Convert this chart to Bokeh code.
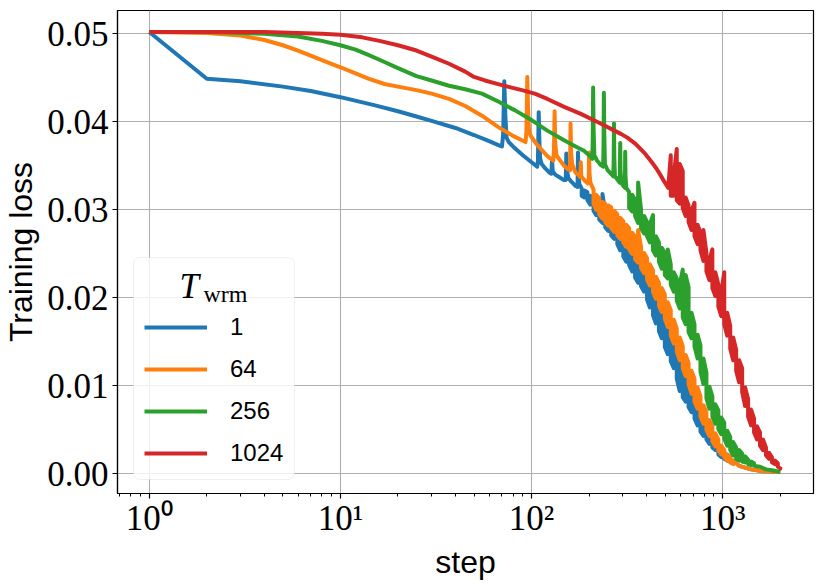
from bokeh.plotting import figure
from bokeh.models import FixedTicker, Legend, LegendItem, Label, BoxAnnotation
from bokeh.embed import file_html
from bokeh.resources import INLINE

# ---------------- data ----------------
series_labels = ["1", "64", "256", "1024"]
series_colors = ["#1f77b4", "#ff7f0e", "#2ca02c", "#d62728"]

# --- T_wrm = 1 : smooth part (step, loss), noisy band (step, upper, lower), tail
t1_line = [
    (1, .0502), (2, .0449), (3, .0446), (5, .0440), (7, .0435), (10, .0428), (15, .0419),
    (20, .0412), (25, .0406), (30, .0401), (40, .0393), (50, .0385), (60, .0378), (68, .0373),
    (70, .0372), (71, .0385), (72, .0446), (73, .0405), (74, .0382), (76, .0377), (80, .0372),
    (90, .0362), (100, .0354), (107, .0349), (108, .0355), (109, .0411), (110, .0375),
    (111, .0358), (113, .0352), (118, .0347), (123, .0343), (127, .0341), (128, .0357),
    (129, .0344), (133, .0340), (140, .0337), (147, .0334), (151, .0334), (152, .0364),
    (153, .0345), (156, .0336), (160, .0333), (165, .0330), (170, .0327), (174, .0326),
    (175, .0365), (176, .0340), (178, .0329),
]
t1_band_steps = [183, 189, 196, 203, 211, 218, 226, 235, 243, 252, 261, 271, 281, 291, 302,
                 313, 324, 336, 348, 361, 374, 388, 402, 416, 432, 447, 464, 480, 498, 516,
                 535, 555, 575, 596, 618, 640, 663, 687, 712, 739, 765, 793, 822, 852, 883,
                 915, 949, 983, 1019, 1056, 1095, 1135]
t1_band_hi = [.0324, .0322, .0320, .0316, .0311, .0306, .0303, .0318, .0297, .0294,
              .0291, .0288, .0283, .0279, .0274, .0268, .0263, .0257, .0251, .0246,
              .0240, .0235, .0244, .0219, .0212, .0205, .0198, .0191, .0183, .0174,
              .0165, .0155, .0144, .0132, .0121, .0112, .0104, .0096, .0087, .0078,
              .0070, .0063, .0056, .0049, .0044, .0039, .0034, .0029, .0026, .0022,
              .0019, .0015]
t1_band_lo = [.0316, .0314, .0311, .0306, .0299, .0294, .0289, .0285, .0280, .0276,
              .0271, .0267, .0261, .0254, .0247, .0241, .0237, .0230, .0223, .0217,
              .0213, .0207, .0198, .0189, .0180, .0171, .0162, .0154, .0144, .0136,
              .0128, .0120, .0108, .0094, .0087, .0082, .0076, .0070, .0063, .0055,
              .0048, .0043, .0039, .0034, .0030, .0027, .0022, .0019, .0017, .0015,
              .0013, .0012]
t1_tail = [(1219, .0009), (1310, .0007), (1407, .0005), (1512, .0004), (1624, .0003),
           (1745, .0003), (1875, .0002), (2000, .0002)]

# --- T_wrm = 64
t64_line = [
    (1, .0502), (2, .0501), (3, .0498), (4, .0493), (5, .0487), (6, .0481), (8, .0470),
    (10, .0462), (12, .0455), (14, .0449), (17, .0443), (20, .0440), (25, .0436), (30, .0432),
    (37, .0426), (45, .0418), (55, .0407), (67, .0394), (80, .0384), (89, .0379), (93, .0377),
    (94, .0388), (95, .0451), (96, .0410), (97, .0390), (99, .0384), (105, .0376), (113, .0368),
    (121, .0361), (130, .0356), (131, .0368), (132, .0412), (133, .0375), (135, .0362),
    (140, .0357), (148, .0350), (155, .0346), (159, .0345), (160, .0398), (161, .0365),
    (163, .0352), (170, .0342), (176, .0340), (180, .0337), (181, .0354), (182, .0338),
    (190, .0333), (197, .0330), (199, .0331), (200, .0365), (201, .0342), (203, .0331),
]
t64_band_steps = [211, 218, 226, 235, 243, 252, 261, 271, 281, 291, 302, 313, 324, 336, 348,
                  361, 374, 388, 402, 416, 432, 447, 464, 480, 498, 516, 535, 555, 575, 596,
                  618, 640, 663, 687, 712, 739, 765, 793, 822, 852, 883, 915, 949, 983, 1019,
                  1056, 1095, 1135]
t64_band_hi = [.0323, .0317, .0313, .0309, .0307, .0305, .0303, .0299, .0295, .0291,
               .0287, .0283, .0279, .0274, .0270, .0277, .0258, .0251, .0245, .0238,
               .0231, .0224, .0217, .0211, .0204, .0195, .0186, .0175, .0165, .0155,
               .0145, .0135, .0126, .0117, .0108, .0098, .0088, .0078, .0070, .0061,
               .0054, .0046, .0039, .0032, .0027, .0022, .0019, .0015]
t64_band_lo = [.0307, .0300, .0295, .0290, .0286, .0282, .0279, .0275, .0271, .0267,
               .0263, .0258, .0255, .0250, .0244, .0240, .0234, .0228, .0221, .0214,
               .0207, .0199, .0191, .0184, .0176, .0167, .0157, .0148, .0139, .0129,
               .0120, .0111, .0102, .0091, .0082, .0074, .0065, .0057, .0050, .0043,
               .0037, .0031, .0027, .0022, .0019, .0015, .0013, .0011]
t64_tail = [(1219, .0009), (1310, .0007), (1407, .0005), (1512, .0004), (1624, .0003),
            (1745, .0003), (1875, .0002), (2000, .0002)]

# --- T_wrm = 256
t256_line = [
    (1, .0502), (2, .0502), (3, .0501), (4, .0500), (6, .0497), (8, .0492), (10, .0487),
    (12, .0482), (14, .0476), (17, .0468), (20, .0461), (25, .0452), (30, .0447), (37, .0441),
    (45, .0437), (55, .0432), (67, .0423), (82, .0413), (100, .0402), (121, .0390),
    (148, .0379), (170, .0372), (188, .0367), (200, .0362), (208, .0358), (209, .0380),
    (210, .0439), (211, .0395), (213, .0362), (220, .0356), (230, .0351), (237, .0349),
    (238, .0372), (239, .0433), (240, .0390), (242, .0352), (250, .0345), (260, .0341),
    (268, .0338), (269, .0360), (270, .0398), (271, .0360), (273, .0338), (280, .0335),
    (289, .0331), (290, .0350), (291, .0376), (292, .0345), (295, .0331), (300, .0328),
    (308, .0325), (309, .0366), (310, .0340), (313, .0325),
]
t256_band_steps = [324, 336, 348, 361, 374, 388, 402, 416, 432, 447, 464, 480, 498, 516, 535,
                   555, 575, 596, 618, 640, 663, 687, 712, 739, 765, 793, 822, 852, 883, 915,
                   949, 983, 1019, 1056, 1095, 1135, 1176, 1219, 1264, 1310, 1358, 1407, 1459]
t256_band_hi = [.0320, .0317, .0312, .0331, .0300, .0293, .0286, .0284, .0294, .0270,
                .0263, .0257, .0251, .0255, .0238, .0229, .0222, .0215, .0232, .0226,
                .0212, .0183, .0170, .0158, .0146, .0131, .0115, .0099, .0088, .0079,
                .0072, .0064, .0058, .0049, .0042, .0036, .0030, .0027, .0023, .0020,
                .0016, .0014, .0012]
t256_band_lo = [.0302, .0298, .0293, .0285, .0279, .0273, .0270, .0263, .0254, .0248,
                .0241, .0233, .0226, .0222, .0215, .0207, .0197, .0188, .0178, .0170,
                .0161, .0154, .0145, .0131, .0116, .0102, .0086, .0074, .0065, .0057,
                .0051, .0045, .0040, .0032, .0027, .0021, .0017, .0015, .0014, .0013,
                .0011, .0010, .0009]
t256_tail = [(1567, .0008), (1684, .0005), (1809, .0004), (2000, .0002)]

# --- T_wrm = 1024
t1024_line = [
    (1, .0502), (2, .0502), (4, .0502), (6, .0501), (8, .0500), (10, .0499), (13, .0496),
    (16, .0492), (20, .0487), (25, .0481), (30, .0474), (37, .0466), (45, .0457), (50, .0451),
    (57, .0447), (64, .0444), (75, .0440), (89, .0436), (104, .0432), (121, .0426),
    (148, .0417), (181, .0409), (220, .0400), (245, .0395), (271, .0390), (295, .0386),
    (317, .0382), (350, .0375), (388, .0365), (426, .0354), (450, .0347), (471, .0340),
    (495, .0332), (519, .0325),
]
t1024_band_steps = [535, 555, 575, 596, 618, 640, 663, 687, 712, 739, 765, 793, 822, 852, 883,
                    915, 949, 983, 1019, 1056, 1095, 1135, 1176, 1219, 1264, 1310, 1358, 1407,
                    1459, 1512, 1567, 1624, 1684, 1745, 1809, 1875, 1943, 2000]
t1024_band_hi = [.0362, .0339, .0369, .0352, .0344, .0314, .0305, .0299, .0308, .0283,
                 .0274, .0277, .0251, .0243, .0255, .0229, .0215, .0206, .0229, .0183,
                 .0168, .0155, .0141, .0129, .0120, .0098, .0085, .0073, .0063, .0054,
                 .0047, .0039, .0030, .0024, .0019, .0015, .0012, .0008]
t1024_band_lo = [.0316, .0316, .0311, .0307, .0302, .0293, .0286, .0277, .0270, .0261,
                 .0254, .0242, .0230, .0220, .0211, .0202, .0190, .0179, .0170, .0157,
                 .0142, .0129, .0117, .0104, .0093, .0077, .0065, .0055, .0047, .0039,
                 .0032, .0027, .0021, .0017, .0013, .0011, .0008, .0006]
t1024_tail = []

x_ticks = [1, 10, 100, 1000]
x_tick_labels = ["10\u2070", "10\u00b9", "10\u00b2", "10\u00b3"]
x_minor_ticks = [0.7, 0.8, 0.9, 2, 3, 4, 5, 6, 7, 8, 9, 20, 30, 40, 50, 60, 70, 80, 90,
                 200, 300, 400, 500, 600, 700, 800, 900, 2000]
y_ticks = [0.0, 0.01, 0.02, 0.03, 0.04, 0.05]
y_tick_labels = ["0.00", "0.01", "0.02", "0.03", "0.04", "0.05"]
x_label = "step"
y_label = "Training loss"
legend_title_main = "T"
legend_title_sub = "wrm"


def build_path(line_pts, band_steps, band_hi, band_lo, tail_pts):
    """Trace smooth part, then the noisy band (each step spans its low..high range), then tail."""
    assert len(band_steps) == len(band_hi) == len(band_lo)
    xs = [s for s, _ in line_pts]
    ys = [v for _, v in line_pts]
    for i, (s, hi, lo) in enumerate(zip(band_steps, band_hi, band_lo)):
        a, b = (hi, lo) if i % 2 == 0 else (lo, hi)
        xs += [s, s]
        ys += [a, b]
    xs += [s for s, _ in tail_pts]
    ys += [v for _, v in tail_pts]
    return xs, ys


series = [
    (t1_line, t1_band_steps, t1_band_hi, t1_band_lo, t1_tail),
    (t64_line, t64_band_steps, t64_band_hi, t64_band_lo, t64_tail),
    (t256_line, t256_band_steps, t256_band_hi, t256_band_lo, t256_tail),
    (t1024_line, t1024_band_steps, t1024_band_hi, t1024_band_lo, t1024_tail),
]

# ---------------- figure ----------------
p = figure(width=815, height=582, x_axis_type="log",
           x_range=(0.682, 2986), y_range=(-0.00224, 0.05265),
           output_backend="svg", toolbar_location=None,
           min_border_left=111, min_border_right=2, min_border_top=10, min_border_bottom=89)
p.background_fill_color = "white"
p.border_fill_color = "white"
p.outline_line_color = "black"
p.outline_line_width = 1.2

xt = FixedTicker(ticks=x_ticks, minor_ticks=x_minor_ticks)
yt = FixedTicker(ticks=y_ticks)
p.xaxis.ticker = xt
p.yaxis.ticker = yt
p.xaxis.major_label_overrides = dict(zip(x_ticks, x_tick_labels))
p.yaxis.major_label_overrides = dict(zip(y_ticks, y_tick_labels))

for ax in (p.xaxis[0], p.yaxis[0]):
    ax.axis_line_color = "black"
    ax.axis_line_width = 1.2
    ax.major_tick_line_color = "black"
    ax.minor_tick_line_color = "black"
    ax.major_tick_line_width = 1.2
    ax.minor_tick_line_width = 1
    ax.major_tick_out = 5
    ax.major_tick_in = 0
    ax.minor_tick_out = 3
    ax.minor_tick_in = 0
    ax.major_label_text_font = "Liberation Serif"
    ax.major_label_text_font_size = "35px"
    ax.major_label_text_color = "black"
    ax.axis_label_text_font = "Liberation Sans"
    ax.axis_label_text_font_size = "32px"
    ax.axis_label_text_font_style = "normal"
    ax.axis_label_text_color = "black"

p.yaxis.minor_tick_out = 0
p.xaxis.major_label_standoff = 0
p.xaxis.axis_label_standoff = 3
p.yaxis.major_label_standoff = 4
p.yaxis.axis_label_standoff = 5
p.xaxis.axis_label = x_label
p.yaxis.axis_label = y_label

p.xgrid.ticker = xt
p.ygrid.ticker = yt
for g in (p.xgrid[0], p.ygrid[0]):
    g.grid_line_color = "#b0b0b0"
    g.grid_line_width = 1.1
    g.minor_grid_line_color = None

renderers = []
for parts, col in zip(series, series_colors):
    xs, ys = build_path(*parts)
    r = p.line(xs, ys, line_color=col, line_width=4, line_join="round")
    renderers.append(r)

# legend frame (drawn separately so the title text can sit on top of it)
frame_box = BoxAnnotation(left=16, right=177, bottom=14, top=236,
                          left_units="screen", right_units="screen",
                          top_units="screen", bottom_units="screen",
                          fill_color="white", fill_alpha=0.8,
                          line_color="#cccccc", line_width=1)
if "border_radius" in BoxAnnotation.properties():
    frame_box.border_radius = 6
p.add_layout(frame_box)

legend = Legend(
    items=[LegendItem(label=lab, renderers=[r]) for lab, r in zip(series_labels, renderers)],
    location=(27, 24), title=" ", title_text_font="Liberation Serif",
    title_text_font_size="30px", title_standoff=10,
    label_text_font="Liberation Sans", label_text_font_size="24px", label_text_color="black",
    glyph_width=63, glyph_height=32, label_height=32, label_standoff=23, spacing=10,
    padding=10, margin=0, border_line_color=None,
    background_fill_color="white", background_fill_alpha=0.0,
)
p.add_layout(legend)

p.add_layout(Label(x=62, y=207, x_units="screen", y_units="screen", text=legend_title_main,
                   text_font="Liberation Serif", text_font_style="italic",
                   text_font_size="35px", text_baseline="alphabetic", text_color="black",
                   level="overlay"))
p.add_layout(Label(x=86, y=200, x_units="screen", y_units="screen", text=legend_title_sub,
                   text_font="Liberation Serif", text_font_size="24px",
                   text_baseline="alphabetic", text_color="black", level="overlay"))

open("out.html", "w").write(file_html(p, INLINE))
